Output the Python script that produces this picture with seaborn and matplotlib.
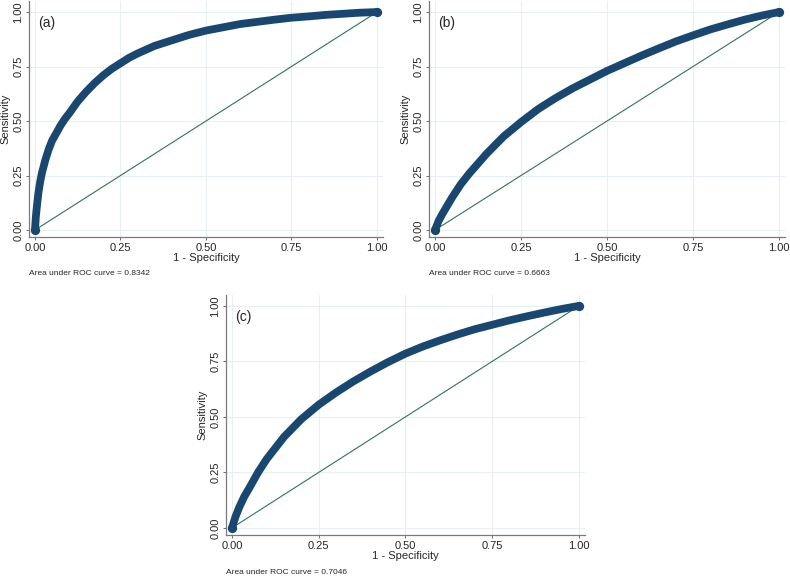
import matplotlib
matplotlib.use("Agg")
import matplotlib.pyplot as plt
import pandas as pd
import seaborn as sns

# ROC points
a_fpr = [0, 0.0025, 0.005, 0.01, 0.015, 0.02, 0.03, 0.04, 0.05, 0.0625, 0.075,
         0.0875, 0.1, 0.125, 0.15, 0.175, 0.2, 0.225, 0.25, 0.275, 0.3, 0.35,
         0.4, 0.45, 0.5, 0.55, 0.6, 0.65, 0.7, 0.75, 0.8, 0.85, 0.9, 0.95, 1.0]
a_tpr = [0, 0.06, 0.10, 0.17, 0.22, 0.26, 0.32, 0.37, 0.41, 0.445, 0.48,
         0.51, 0.535, 0.59, 0.635, 0.675, 0.71, 0.74, 0.765, 0.79, 0.81, 0.845,
         0.87, 0.895, 0.915, 0.93, 0.945, 0.955, 0.965, 0.974, 0.98, 0.987,
         0.992, 0.997, 1.0]

b_fpr = [0, 0.01, 0.02, 0.035, 0.05, 0.075, 0.1, 0.125, 0.15, 0.175, 0.2,
         0.25, 0.3, 0.35, 0.4, 0.45, 0.5, 0.55, 0.6, 0.65, 0.7, 0.75, 0.8,
         0.85, 0.9, 0.95, 1.0]
b_tpr = [0, 0.04, 0.07, 0.11, 0.15, 0.21, 0.26, 0.305, 0.35, 0.39, 0.43,
         0.495, 0.555, 0.605, 0.65, 0.69, 0.73, 0.765, 0.80, 0.833, 0.865,
         0.893, 0.92, 0.943, 0.965, 0.984, 1.0]

c_fpr = [0, 0.01, 0.02, 0.035, 0.05, 0.075, 0.1, 0.125, 0.15, 0.175, 0.2,
         0.25, 0.3, 0.35, 0.4, 0.45, 0.5, 0.55, 0.6, 0.65, 0.7, 0.75, 0.8,
         0.85, 0.9, 0.95, 1.0]
c_tpr = [0, 0.05, 0.09, 0.14, 0.18, 0.25, 0.31, 0.36, 0.41, 0.45, 0.49,
         0.555, 0.61, 0.66, 0.705, 0.747, 0.785, 0.817, 0.845, 0.871, 0.895,
         0.915, 0.935, 0.953, 0.97, 0.986, 1.0]

panel_labels = ["(a)", "(b)", "(c)"]
auc_values = [0.8342, 0.6663, 0.7046]
ticks = [0, 0.25, 0.5, 0.75, 1.0]
tick_labels = ["0.00", "0.25", "0.50", "0.75", "1.00"]

sns.set_theme(style="white")
plt.rcParams["font.family"] = ["Liberation Sans", "DejaVu Sans"]

navy = "#1a476f"
green = "#2e7558"
grid_col = "#e8eff2"

fig = plt.figure(figsize=(7.9, 5.76), dpi=100)
# axes rectangles in figure fractions
rects = [
    [0.0367, 0.5885, 0.448, 0.4095],
    [0.543, 0.5885, 0.4507, 0.4095],
    [0.286, 0.0712, 0.4545, 0.417],
]
curves = [(a_fpr, a_tpr), (b_fpr, b_tpr), (c_fpr, c_tpr)]

for rect, (fpr, tpr), lab, auc in zip(rects, curves, panel_labels, auc_values):
    ax = fig.add_axes(rect)
    df = pd.DataFrame({"fpr": fpr, "tpr": tpr})
    ax.set_xlim(-0.0175, 1.0175)
    ax.set_ylim(-0.032, 1.05)
    for t in ticks:
        ax.axhline(t, color=grid_col, lw=0.8, zorder=0)
        ax.axvline(t, color=grid_col, lw=0.8, zorder=0)
    sns.lineplot(x=[0, 1], y=[0, 1], ax=ax, color=green, lw=0.8, zorder=2)
    sns.lineplot(data=df, x="fpr", y="tpr", ax=ax, color=navy, lw=5.6,
                 solid_capstyle="round", solid_joinstyle="round", zorder=3,
                 sort=False, estimator=None)
    ax.scatter([fpr[0], fpr[-1]], [tpr[0], tpr[-1]], s=32, color=navy, zorder=4)

    ax.set_xticks(ticks)
    ax.set_xticklabels(tick_labels, fontsize=8)
    ax.set_yticks(ticks)
    ax.set_yticklabels(tick_labels, fontsize=8, rotation=90, va="center")
    ax.tick_params(axis="both", direction="out", length=2.5, width=0.6,
                   color="#555555", pad=1.5, bottom=True, left=True)
    ax.set_xlabel("1 - Specificity", fontsize=8, labelpad=0)
    ax.set_ylabel("Sensitivity", fontsize=8, labelpad=2)
    for side in ["top", "right"]:
        ax.spines[side].set_visible(False)
    for side in ["left", "bottom"]:
        ax.spines[side].set_color("#7a7a7a")
        ax.spines[side].set_linewidth(0.9)
    ax.text(0.01, 0.95, lab, fontsize=10, va="center", ha="left", zorder=5)
    ax.text(0.0, -0.155, f"Area under ROC curve = {auc:.4f}", fontsize=6,
            transform=ax.transAxes, ha="left", va="center")

fig.savefig("out.png", dpi=100)
